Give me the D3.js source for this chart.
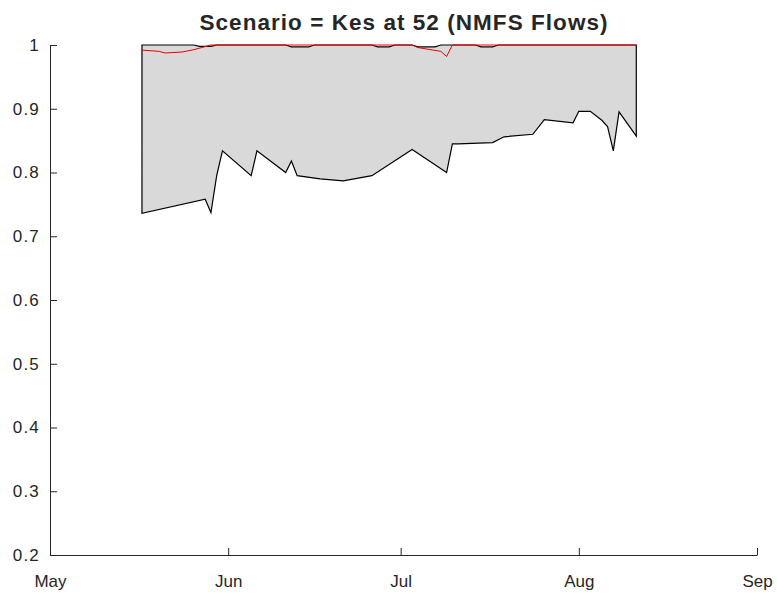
<!DOCTYPE html>
<html>
<head>
<meta charset="utf-8">
<script src="https://cdn.jsdelivr.net/npm/d3@7/dist/d3.min.js"></script>
<style>
  html, body { margin: 0; padding: 0; background: #fff; }
  svg { display: block; }
  text { font-family: "Liberation Sans", Arial, sans-serif; fill: #262626; }
</style>
</head>
<body>
<svg id="chart" width="777" height="593"></svg>
<script>
// ---- data ----
const titleText = "Scenario = Kes at 52 (NMFS Flows)";
const xDomain = ["2021-05-01", "2021-09-01"];
const xTickDates = ["2021-05-01", "2021-06-01", "2021-07-01", "2021-08-01", "2021-09-01"];
const xTickLabels = ["May", "Jun", "Jul", "Aug", "Sep"];
const yDomain = [0.2, 1];
const yTicks = [0.2, 0.3, 0.4, 0.5, 0.6, 0.7, 0.8, 0.9, 1];

// upper envelope (max)
const maxDates = ["2021-05-17","2021-05-26","2021-05-27","2021-05-29","2021-05-30",
  "2021-06-11","2021-06-12","2021-06-15","2021-06-16",
  "2021-06-26","2021-06-27","2021-06-29","2021-06-30",
  "2021-07-03","2021-07-04","2021-07-07","2021-07-08",
  "2021-07-14","2021-07-15","2021-07-17","2021-07-18","2021-08-11"];
const maxVals = [1,1,0.998,0.998,1,
  1,0.997,0.997,1,
  1,0.997,0.997,1,
  1,0.997,0.997,1,
  1,0.997,0.997,1,1];

// lower envelope (min)
const minDates = ["2021-05-17","2021-05-28","2021-05-29","2021-05-30","2021-05-31",
  "2021-06-05","2021-06-06","2021-06-11","2021-06-12","2021-06-13","2021-06-17",
  "2021-06-21","2021-06-26","2021-07-03","2021-07-09","2021-07-10","2021-07-11",
  "2021-07-17","2021-07-19","2021-07-24","2021-07-26","2021-07-31","2021-08-01",
  "2021-08-03","2021-08-05","2021-08-06","2021-08-07","2021-08-08","2021-08-11"];
const minVals = [0.736,0.758,0.737,0.795,0.834,
  0.795,0.834,0.800,0.818,0.795,0.790,
  0.787,0.795,0.836,0.800,0.845,0.845,
  0.847,0.856,0.860,0.883,0.878,0.896,
  0.896,0.882,0.872,0.834,0.895,0.857];

// central line (red)
const redDates = ["2021-05-17","2021-05-20","2021-05-21","2021-05-24","2021-05-26","2021-05-29",
  "2021-07-03","2021-07-04","2021-07-08","2021-07-09","2021-07-10","2021-08-11"];
const redVals = [0.992,0.990,0.9875,0.989,0.9926,1,
  1,0.996,0.990,0.982,1,1];

// ---- drawing ----
const parse = d3.utcParse("%Y-%m-%d");
const svg = d3.select("#chart");
const m = { left: 50, right: 777 - 757, top: 45, bottom: 593 - 555 };
const W = 777, H = 593;

const x = d3.scaleUtc().domain(xDomain.map(parse)).range([m.left, W - m.right]);
const y = d3.scaleLinear().domain(yDomain).range([H - m.bottom, m.top]);

const upper = maxDates.map((d, i) => [parse(d), maxVals[i]]);
const lower = minDates.map((d, i) => [parse(d), minVals[i]]);
const red = redDates.map((d, i) => [parse(d), redVals[i]]);

const line = d3.line().x(d => x(d[0])).y(d => y(d[1]));

// filled band between envelopes
const poly = upper.concat(lower.slice().reverse());
svg.append("path")
  .attr("d", line(poly) + "Z")
  .attr("fill", "#d9d9d9")
  .attr("stroke", "#000")
  .attr("stroke-width", 1.2)
  .attr("stroke-linejoin", "miter");

svg.append("path")
  .attr("d", line(red))
  .attr("fill", "none")
  .attr("stroke", "#ee0000")
  .attr("stroke-width", 1);

// axes
const xAxis = d3.axisBottom(x)
  .tickValues(xTickDates.map(parse))
  .tickFormat((d, i) => xTickLabels[i])
  .tickSizeInner(-7).tickSizeOuter(0).tickPadding(20);
const gx = svg.append("g").attr("transform", `translate(0,${H - m.bottom})`).call(xAxis);

const yAxis = d3.axisLeft(y)
  .tickValues(yTicks)
  .tickFormat(d => d === 1 ? "1" : d3.format(".1f")(d))
  .tickSizeInner(-7).tickSizeOuter(0).tickPadding(10);
const gy = svg.append("g").attr("transform", `translate(${m.left},0)`).call(yAxis);

[gx, gy].forEach(g => {
  g.select(".domain").attr("stroke", "#262626").attr("stroke-width", 1);
  g.selectAll(".tick line").attr("stroke", "#262626");
  g.selectAll(".tick text").attr("font-size", 17).attr("fill", "#262626")
    .attr("font-family", "'Liberation Sans', Arial, sans-serif");
});
gy.selectAll(".tick text").attr("letter-spacing", 1.2);

svg.append("text")
  .attr("x", (m.left + W - m.right) / 2)
  .attr("y", 30)
  .attr("text-anchor", "middle")
  .attr("font-size", 22.5)
  .attr("font-weight", "bold")
  .attr("textLength", 408)
  .attr("lengthAdjust", "spacing")
  .text(titleText);
</script>
</body>
</html>
